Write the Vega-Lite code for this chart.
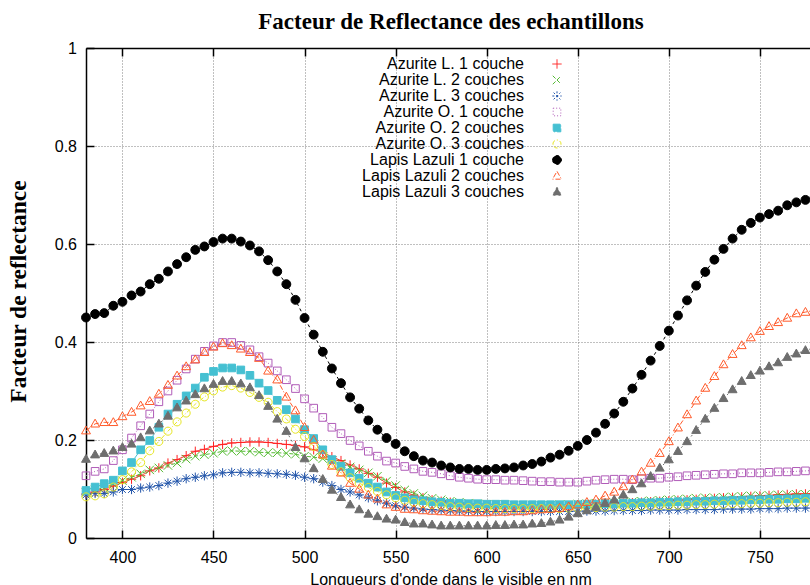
{
"$schema":"https://vega.github.io/schema/vega-lite/v6.json",
"width":724,"height":490,
"autosize":"none",
"padding":{"left":86,"top":48,"right":0,"bottom":47},
"background":"white",
"title":{"text":"Facteur de Reflectance des echantillons","font":"Liberation Serif","fontSize":23,"fontWeight":"bold","color":"black","anchor":"middle","dx":3,"offset":6},
"data":{"values":[
{"w":380,"L1":0.090,"L2":0.093,"L3":0.088,"O1":0.127,"O2":0.097,"O3":0.084,"Z1":0.450,"Z2":0.219,"Z3":0.161},
{"w":385,"L1":0.094,"L2":0.098,"L3":0.091,"O1":0.136,"O2":0.104,"O3":0.086,"Z1":0.457,"Z2":0.233,"Z3":0.170},
{"w":390,"L1":0.099,"L2":0.103,"L3":0.091,"O1":0.141,"O2":0.111,"O3":0.090,"Z1":0.459,"Z2":0.236,"Z3":0.173},
{"w":395,"L1":0.106,"L2":0.110,"L3":0.094,"O1":0.158,"O2":0.118,"O3":0.104,"Z1":0.474,"Z2":0.236,"Z3":0.178},
{"w":400,"L1":0.113,"L2":0.117,"L3":0.099,"O1":0.180,"O2":0.137,"O3":0.119,"Z1":0.482,"Z2":0.248,"Z3":0.185},
{"w":405,"L1":0.120,"L2":0.124,"L3":0.099,"O1":0.204,"O2":0.154,"O3":0.135,"Z1":0.495,"Z2":0.257,"Z3":0.192},
{"w":410,"L1":0.127,"L2":0.131,"L3":0.102,"O1":0.229,"O2":0.180,"O3":0.154,"Z1":0.503,"Z2":0.270,"Z3":0.205},
{"w":415,"L1":0.137,"L2":0.139,"L3":0.104,"O1":0.253,"O2":0.199,"O3":0.178,"Z1":0.518,"Z2":0.279,"Z3":0.219},
{"w":420,"L1":0.143,"L2":0.143,"L3":0.107,"O1":0.278,"O2":0.226,"O3":0.197,"Z1":0.529,"Z2":0.294,"Z3":0.233},
{"w":425,"L1":0.153,"L2":0.148,"L3":0.112,"O1":0.300,"O2":0.253,"O3":0.218,"Z1":0.544,"Z2":0.312,"Z3":0.249},
{"w":430,"L1":0.160,"L2":0.153,"L3":0.116,"O1":0.322,"O2":0.273,"O3":0.237,"Z1":0.559,"Z2":0.331,"Z3":0.266},
{"w":435,"L1":0.168,"L2":0.161,"L3":0.121,"O1":0.345,"O2":0.290,"O3":0.255,"Z1":0.573,"Z2":0.350,"Z3":0.280},
{"w":440,"L1":0.177,"L2":0.167,"L3":0.124,"O1":0.365,"O2":0.306,"O3":0.273,"Z1":0.588,"Z2":0.364,"Z3":0.293},
{"w":445,"L1":0.181,"L2":0.170,"L3":0.127,"O1":0.381,"O2":0.328,"O3":0.288,"Z1":0.595,"Z2":0.379,"Z3":0.305},
{"w":450,"L1":0.187,"L2":0.173,"L3":0.129,"O1":0.392,"O2":0.340,"O3":0.300,"Z1":0.604,"Z2":0.390,"Z3":0.314},
{"w":455,"L1":0.191,"L2":0.177,"L3":0.133,"O1":0.399,"O2":0.347,"O3":0.308,"Z1":0.611,"Z2":0.397,"Z3":0.320},
{"w":460,"L1":0.194,"L2":0.178,"L3":0.134,"O1":0.399,"O2":0.347,"O3":0.311,"Z1":0.611,"Z2":0.393,"Z3":0.320},
{"w":465,"L1":0.195,"L2":0.177,"L3":0.134,"O1":0.393,"O2":0.343,"O3":0.306,"Z1":0.605,"Z2":0.386,"Z3":0.315},
{"w":470,"L1":0.196,"L2":0.177,"L3":0.133,"O1":0.384,"O2":0.332,"O3":0.297,"Z1":0.597,"Z2":0.379,"Z3":0.307},
{"w":475,"L1":0.196,"L2":0.175,"L3":0.133,"O1":0.370,"O2":0.316,"O3":0.287,"Z1":0.585,"Z2":0.367,"Z3":0.291},
{"w":480,"L1":0.195,"L2":0.174,"L3":0.132,"O1":0.357,"O2":0.301,"O3":0.277,"Z1":0.567,"Z2":0.341,"Z3":0.269},
{"w":485,"L1":0.193,"L2":0.174,"L3":0.131,"O1":0.341,"O2":0.281,"O3":0.258,"Z1":0.544,"Z2":0.323,"Z3":0.243},
{"w":490,"L1":0.191,"L2":0.173,"L3":0.130,"O1":0.323,"O2":0.262,"O3":0.243,"Z1":0.518,"Z2":0.288,"Z3":0.218},
{"w":495,"L1":0.189,"L2":0.171,"L3":0.128,"O1":0.305,"O2":0.243,"O3":0.222,"Z1":0.486,"Z2":0.260,"Z3":0.185},
{"w":500,"L1":0.186,"L2":0.167,"L3":0.124,"O1":0.284,"O2":0.221,"O3":0.207,"Z1":0.449,"Z2":0.226,"Z3":0.162},
{"w":505,"L1":0.180,"L2":0.165,"L3":0.121,"O1":0.265,"O2":0.203,"O3":0.187,"Z1":0.415,"Z2":0.200,"Z3":0.142},
{"w":510,"L1":0.174,"L2":0.162,"L3":0.114,"O1":0.246,"O2":0.180,"O3":0.170,"Z1":0.380,"Z2":0.170,"Z3":0.120},
{"w":515,"L1":0.166,"L2":0.158,"L3":0.107,"O1":0.226,"O2":0.160,"O3":0.150,"Z1":0.346,"Z2":0.147,"Z3":0.098},
{"w":520,"L1":0.158,"L2":0.152,"L3":0.099,"O1":0.213,"O2":0.146,"O3":0.135,"Z1":0.316,"Z2":0.133,"Z3":0.083},
{"w":525,"L1":0.149,"L2":0.145,"L3":0.094,"O1":0.199,"O2":0.133,"O3":0.123,"Z1":0.287,"Z2":0.112,"Z3":0.068},
{"w":530,"L1":0.141,"L2":0.139,"L3":0.088,"O1":0.188,"O2":0.122,"O3":0.112,"Z1":0.264,"Z2":0.100,"Z3":0.058},
{"w":535,"L1":0.132,"L2":0.133,"L3":0.082,"O1":0.177,"O2":0.112,"O3":0.103,"Z1":0.240,"Z2":0.088,"Z3":0.049},
{"w":540,"L1":0.124,"L2":0.126,"L3":0.076,"O1":0.167,"O2":0.104,"O3":0.095,"Z1":0.221,"Z2":0.080,"Z3":0.044},
{"w":545,"L1":0.112,"L2":0.116,"L3":0.071,"O1":0.157,"O2":0.094,"O3":0.088,"Z1":0.204,"Z2":0.068,"Z3":0.039},
{"w":550,"L1":0.103,"L2":0.107,"L3":0.066,"O1":0.153,"O2":0.087,"O3":0.082,"Z1":0.192,"Z2":0.063,"Z3":0.037},
{"w":555,"L1":0.094,"L2":0.098,"L3":0.063,"O1":0.146,"O2":0.082,"O3":0.077,"Z1":0.177,"Z2":0.059,"Z3":0.032},
{"w":560,"L1":0.087,"L2":0.091,"L3":0.061,"O1":0.141,"O2":0.078,"O3":0.073,"Z1":0.167,"Z2":0.058,"Z3":0.029},
{"w":565,"L1":0.082,"L2":0.086,"L3":0.059,"O1":0.136,"O2":0.076,"O3":0.070,"Z1":0.158,"Z2":0.056,"Z3":0.029},
{"w":570,"L1":0.078,"L2":0.081,"L3":0.058,"O1":0.134,"O2":0.074,"O3":0.068,"Z1":0.154,"Z2":0.055,"Z3":0.027},
{"w":575,"L1":0.075,"L2":0.078,"L3":0.057,"O1":0.131,"O2":0.073,"O3":0.066,"Z1":0.148,"Z2":0.054,"Z3":0.025},
{"w":580,"L1":0.073,"L2":0.075,"L3":0.056,"O1":0.127,"O2":0.071,"O3":0.064,"Z1":0.144,"Z2":0.053,"Z3":0.025},
{"w":585,"L1":0.070,"L2":0.073,"L3":0.055,"O1":0.124,"O2":0.071,"O3":0.063,"Z1":0.141,"Z2":0.053,"Z3":0.025},
{"w":590,"L1":0.068,"L2":0.071,"L3":0.055,"O1":0.122,"O2":0.070,"O3":0.062,"Z1":0.141,"Z2":0.052,"Z3":0.025},
{"w":595,"L1":0.066,"L2":0.070,"L3":0.054,"O1":0.120,"O2":0.070,"O3":0.061,"Z1":0.139,"Z2":0.052,"Z3":0.025},
{"w":600,"L1":0.065,"L2":0.069,"L3":0.054,"O1":0.119,"O2":0.069,"O3":0.061,"Z1":0.139,"Z2":0.052,"Z3":0.025},
{"w":605,"L1":0.064,"L2":0.068,"L3":0.054,"O1":0.119,"O2":0.069,"O3":0.060,"Z1":0.141,"Z2":0.053,"Z3":0.026},
{"w":610,"L1":0.064,"L2":0.068,"L3":0.054,"O1":0.118,"O2":0.069,"O3":0.060,"Z1":0.142,"Z2":0.053,"Z3":0.026},
{"w":615,"L1":0.063,"L2":0.067,"L3":0.054,"O1":0.118,"O2":0.068,"O3":0.060,"Z1":0.144,"Z2":0.054,"Z3":0.027},
{"w":620,"L1":0.063,"L2":0.067,"L3":0.054,"O1":0.117,"O2":0.068,"O3":0.060,"Z1":0.148,"Z2":0.054,"Z3":0.027},
{"w":625,"L1":0.063,"L2":0.067,"L3":0.054,"O1":0.116,"O2":0.068,"O3":0.060,"Z1":0.151,"Z2":0.056,"Z3":0.029},
{"w":630,"L1":0.063,"L2":0.067,"L3":0.054,"O1":0.115,"O2":0.068,"O3":0.060,"Z1":0.156,"Z2":0.058,"Z3":0.030},
{"w":635,"L1":0.063,"L2":0.067,"L3":0.054,"O1":0.115,"O2":0.068,"O3":0.060,"Z1":0.164,"Z2":0.059,"Z3":0.033},
{"w":640,"L1":0.064,"L2":0.068,"L3":0.054,"O1":0.114,"O2":0.068,"O3":0.060,"Z1":0.170,"Z2":0.061,"Z3":0.037},
{"w":645,"L1":0.065,"L2":0.068,"L3":0.054,"O1":0.114,"O2":0.068,"O3":0.061,"Z1":0.178,"Z2":0.064,"Z3":0.043},
{"w":650,"L1":0.066,"L2":0.069,"L3":0.055,"O1":0.114,"O2":0.068,"O3":0.061,"Z1":0.188,"Z2":0.068,"Z3":0.050},
{"w":655,"L1":0.067,"L2":0.070,"L3":0.055,"O1":0.116,"O2":0.069,"O3":0.062,"Z1":0.200,"Z2":0.073,"Z3":0.056},
{"w":660,"L1":0.068,"L2":0.071,"L3":0.055,"O1":0.118,"O2":0.069,"O3":0.062,"Z1":0.215,"Z2":0.078,"Z3":0.063},
{"w":665,"L1":0.069,"L2":0.072,"L3":0.055,"O1":0.119,"O2":0.070,"O3":0.063,"Z1":0.233,"Z2":0.086,"Z3":0.071},
{"w":670,"L1":0.070,"L2":0.072,"L3":0.056,"O1":0.120,"O2":0.070,"O3":0.063,"Z1":0.254,"Z2":0.094,"Z3":0.078},
{"w":675,"L1":0.071,"L2":0.073,"L3":0.056,"O1":0.120,"O2":0.071,"O3":0.064,"Z1":0.278,"Z2":0.105,"Z3":0.088},
{"w":680,"L1":0.072,"L2":0.074,"L3":0.056,"O1":0.119,"O2":0.071,"O3":0.064,"Z1":0.305,"Z2":0.119,"Z3":0.099},
{"w":685,"L1":0.073,"L2":0.075,"L3":0.056,"O1":0.121,"O2":0.072,"O3":0.065,"Z1":0.333,"Z2":0.135,"Z3":0.111},
{"w":690,"L1":0.074,"L2":0.076,"L3":0.057,"O1":0.122,"O2":0.072,"O3":0.065,"Z1":0.362,"Z2":0.153,"Z3":0.126},
{"w":695,"L1":0.075,"L2":0.077,"L3":0.057,"O1":0.122,"O2":0.073,"O3":0.066,"Z1":0.392,"Z2":0.173,"Z3":0.143},
{"w":700,"L1":0.076,"L2":0.078,"L3":0.057,"O1":0.124,"O2":0.073,"O3":0.066,"Z1":0.423,"Z2":0.197,"Z3":0.160},
{"w":705,"L1":0.077,"L2":0.079,"L3":0.057,"O1":0.125,"O2":0.074,"O3":0.067,"Z1":0.454,"Z2":0.225,"Z3":0.177},
{"w":710,"L1":0.078,"L2":0.080,"L3":0.058,"O1":0.127,"O2":0.074,"O3":0.067,"Z1":0.485,"Z2":0.252,"Z3":0.197},
{"w":715,"L1":0.079,"L2":0.081,"L3":0.058,"O1":0.128,"O2":0.075,"O3":0.068,"Z1":0.515,"Z2":0.280,"Z3":0.220},
{"w":720,"L1":0.080,"L2":0.082,"L3":0.058,"O1":0.129,"O2":0.075,"O3":0.068,"Z1":0.543,"Z2":0.306,"Z3":0.243},
{"w":725,"L1":0.081,"L2":0.082,"L3":0.058,"O1":0.130,"O2":0.076,"O3":0.069,"Z1":0.568,"Z2":0.330,"Z3":0.265},
{"w":730,"L1":0.082,"L2":0.083,"L3":0.059,"O1":0.131,"O2":0.076,"O3":0.069,"Z1":0.590,"Z2":0.354,"Z3":0.285},
{"w":735,"L1":0.083,"L2":0.084,"L3":0.059,"O1":0.131,"O2":0.077,"O3":0.070,"Z1":0.611,"Z2":0.375,"Z3":0.303},
{"w":740,"L1":0.084,"L2":0.085,"L3":0.059,"O1":0.133,"O2":0.077,"O3":0.070,"Z1":0.629,"Z2":0.393,"Z3":0.320},
{"w":745,"L1":0.085,"L2":0.086,"L3":0.059,"O1":0.133,"O2":0.078,"O3":0.071,"Z1":0.643,"Z2":0.409,"Z3":0.332},
{"w":750,"L1":0.086,"L2":0.086,"L3":0.060,"O1":0.133,"O2":0.078,"O3":0.071,"Z1":0.654,"Z2":0.422,"Z3":0.341},
{"w":755,"L1":0.087,"L2":0.087,"L3":0.060,"O1":0.134,"O2":0.079,"O3":0.072,"Z1":0.661,"Z2":0.432,"Z3":0.350},
{"w":760,"L1":0.088,"L2":0.088,"L3":0.060,"O1":0.135,"O2":0.079,"O3":0.072,"Z1":0.668,"Z2":0.440,"Z3":0.358},
{"w":765,"L1":0.089,"L2":0.088,"L3":0.061,"O1":0.135,"O2":0.080,"O3":0.073,"Z1":0.679,"Z2":0.449,"Z3":0.369},
{"w":770,"L1":0.090,"L2":0.089,"L3":0.061,"O1":0.136,"O2":0.080,"O3":0.073,"Z1":0.685,"Z2":0.458,"Z3":0.376},
{"w":775,"L1":0.090,"L2":0.089,"L3":0.061,"O1":0.137,"O2":0.081,"O3":0.074,"Z1":0.690,"Z2":0.461,"Z3":0.383},
{"w":780,"L1":0.091,"L2":0.090,"L3":0.062,"O1":0.138,"O2":0.081,"O3":0.074,"Z1":0.695,"Z2":0.465,"Z3":0.388}
]},
"transform":[{"fold":["L1","L2","L3","O1","O2","O3","Z1","Z2","Z3"],"as":["s","v"]}],
"encoding":{
 "y":{"field":"v","type":"quantitative","scale":{"domain":[0,1],"nice":false,"zero":false},
  "axis":{"values":[0,0.2,0.4,0.6,0.8,1],"format":"~g","grid":true,"gridColor":"#808080","gridDash":[1,2],"gridWidth":1,
   "tickSize":-8,"tickColor":"black","tickWidth":1.5,"domainColor":"black","domainWidth":1.5,
   "labelFont":"Liberation Sans","labelFontSize":16,"labelColor":"black","labelPadding":17.5,
   "title":"Facteur de reflectance","titleFont":"Liberation Serif","titleFontSize":23.5,"titleFontWeight":"bold","titleColor":"black",
   "titleX":-61,"titleY":243,"titleAngle":270,"titleAlign":"center","titleBaseline":"alphabetic"}}
},
"layer":[
 {"mark":{"type":"line","strokeWidth":1,"clip":false},
  "encoding":{
   "x":{"field":"w","type":"quantitative","scale":{"domain":[380,777.5],"nice":false,"zero":false},
    "axis":{"orient":"bottom","values":[400,450,500,550,600,650,700,750],"format":"d","grid":true,"gridColor":"#808080","gridDash":[1,2],"gridWidth":1,
     "tickSize":-8,"tickColor":"black","tickWidth":1.5,"domainColor":"black","domainWidth":1.5,
     "labelFont":"Liberation Sans","labelFontSize":16,"labelColor":"black","labelPadding":19,
     "title":"Longueurs d'onde dans le visible en nm","titleFont":"Liberation Sans","titleFontSize":16,"titleFontWeight":"normal","titleColor":"black",
     "titleX":364.5,"titleY":46,"titleAlign":"center","titleBaseline":"alphabetic"}},
   "stroke":{"field":"s","type":"nominal",
    "scale":{"domain":["L1","L2","L3","O1","O2","O3","Z1","Z2","Z3"],"range":["#ff2020","#55bb33","#2255aa","#b05cb8","#45c0d2","#e6e622","#000000","#ff5a2a","#6e6e6e"]}},
   "strokeDash":{"field":"s","type":"nominal",
    "scale":{"domain":["L1","L2","L3","O1","O2","O3","Z1","Z2","Z3"],"range":[[1,0],[4,2],[2,2],[1,2],[7,2,1,2],[4,2,1,2],[3,3],[5,2,1,2],[2,3]]}}
  }},
 {"mark":{"type":"point","size":72,"strokeWidth":1,"opacity":1,"clip":false},
  "encoding":{
   "x":{"field":"w","type":"quantitative",
    "axis":{"orient":"top","values":[400,450,500,550,600,650,700,750],"labels":false,"title":null,"grid":false,
     "tickSize":-8,"tickColor":"black","tickWidth":1.5,"domainColor":"black","domainWidth":1.5}},
   "stroke":{"field":"s","type":"nominal"},
   "fill":{"field":"s","type":"nominal",
    "scale":{"domain":["L1","L2","L3","O1","O2","O3","Z1","Z2","Z3"],"range":["transparent","transparent","transparent","transparent","#45c0d2","transparent","#000000","transparent","#6e6e6e"]}},
   "shape":{"field":"s","type":"nominal",
    "scale":{"domain":["L1","L2","L3","O1","O2","O3","Z1","Z2","Z3"],"range":[
     "M-1.1,0H1.1M0,-1.1V1.1",
     "M-1,-1L1,1M-1,1L1,-1",
     "M-1.1,0H1.1M0,-1.1V1.1M-0.8,-0.8L0.8,0.8M-0.8,0.8L0.8,-0.8",
     "M-0.9,-0.9H0.9V0.9H-0.9Z",
     "M-0.9,-0.9H0.9V0.9H-0.9Z",
     "M-0.95,0A0.95,0.95,0,1,1,0.95,0A0.95,0.95,0,1,1,-0.95,0Z",
     "M-1.05,0A1.05,1.05,0,1,1,1.05,0A1.05,1.05,0,1,1,-1.05,0Z",
     "M0,-1.1L1.05,0.75H-1.05Z",
     "M0,-1.1L1.05,0.75H-1.05Z"]},
    "legend":{"title":null,"orient":"none","legendX":463,"legendY":8,"padding":0,
     "labelFont":"Liberation Sans","labelFontSize":16,"labelColor":"black","labelAlign":"right","labelOffset":-41,"labelLimit":0,
     "rowPadding":0,"symbolSize":72,"symbolStrokeWidth":1,"symbolOpacity":1,
     "labelExpr":"datum.value=='L1'?'Azurite L. 1 couche':datum.value=='L2'?'Azurite L. 2 couches':datum.value=='L3'?'Azurite L. 3 couches':datum.value=='O1'?'Azurite O. 1 couche':datum.value=='O2'?'Azurite O. 2 couches':datum.value=='O3'?'Azurite O. 3 couches':datum.value=='Z1'?'Lapis Lazuli 1 couche':datum.value=='Z2'?'Lapis Lazuli 2 couches':'Lapis Lazuli 3 couches'"}}
  }}
],
"resolve":{"axis":{"x":"independent"}},
"config":{"view":{"stroke":null}}
}
